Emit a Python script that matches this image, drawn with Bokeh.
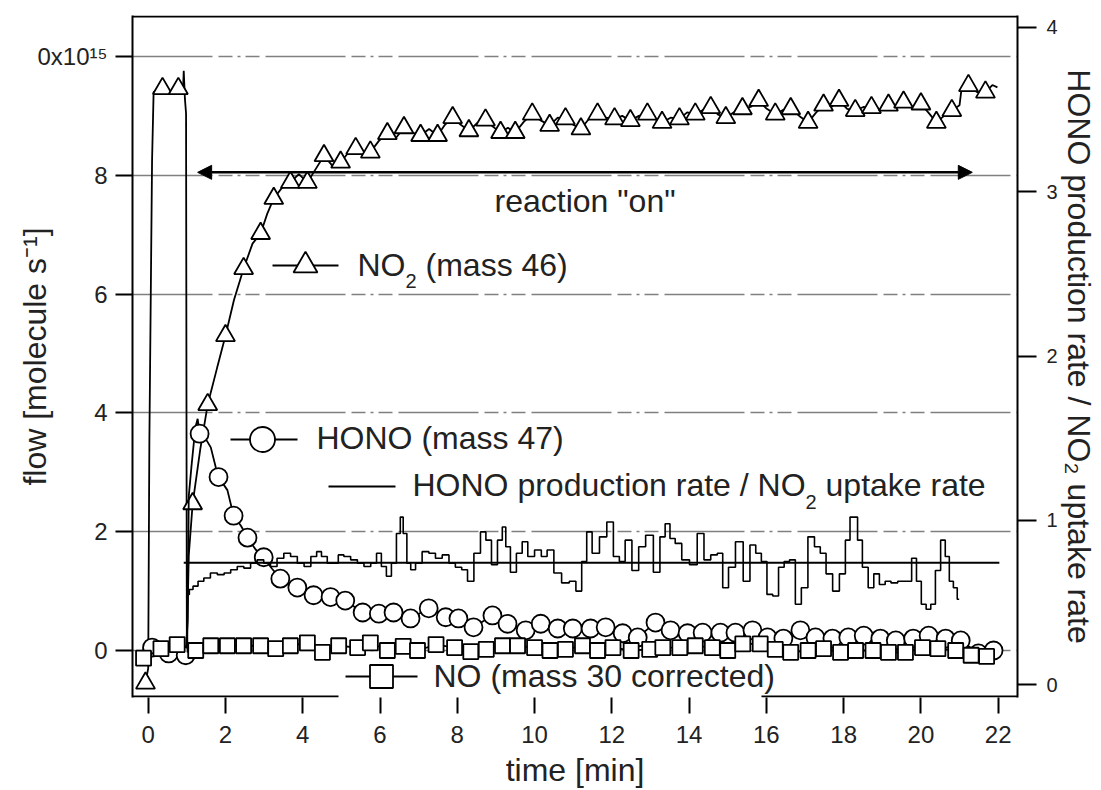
import math
from bokeh.plotting import figure
from bokeh.models import Range1d, LinearAxis, FixedTicker, Label, Arrow, NormalHead
from bokeh.embed import file_html
from bokeh.resources import INLINE

# ---------------- data ----------------
# NO2 (mass 46), flow / 1e15 molecule s-1 ; mark = 1 where a triangle is drawn
no2_t = [-0.07, 0.00, 0.03, 0.10, 0.14, 0.37, 0.58, 0.78, 0.90, 0.92, 0.95, 0.98, 1.00, 1.05,
         1.15, 1.35, 1.54, 1.78, 2.00, 2.22, 2.47, 2.70, 2.91, 3.08, 3.25, 3.45, 3.68, 3.90,
         4.12, 4.33, 4.55, 4.78, 4.98, 5.18, 5.37, 5.56, 5.75, 5.97, 6.19, 6.40, 6.62, 6.84,
         7.05, 7.27, 7.49, 7.68, 7.88, 8.09, 8.30, 8.52, 8.73, 8.92, 9.12, 9.31, 9.50, 9.72,
         9.94, 10.17, 10.39, 10.60, 10.80, 11.00, 11.20, 11.42, 11.63, 11.85, 12.07, 12.27,
         12.48, 12.70, 12.92, 13.11, 13.30, 13.52, 13.75, 13.95, 14.16, 14.36, 14.56, 14.75,
         14.95, 15.16, 15.38, 15.59, 15.80, 16.01, 16.23, 16.43, 16.63, 16.85, 17.08, 17.28,
         17.48, 17.68, 17.88, 18.09, 18.30, 18.51, 18.72, 18.94, 19.16, 19.35, 19.55, 19.78,
         20.00, 20.20, 20.40, 20.60, 20.80, 21.00, 21.05, 21.23, 21.45, 21.67, 21.85, 21.98]
no2_v = [-0.55, -0.30, 3.50, 8.25, 9.40, 9.46, 9.38, 9.46, 9.42, 9.76, 9.29, 9.04, 0.05, 1.60,
         2.47, 3.40, 4.14, 4.75, 5.30, 5.90, 6.43, 6.85, 7.02, 7.35, 7.61, 7.78, 7.88, 8.02,
         7.88, 8.10, 8.33, 8.15, 8.22, 8.38, 8.45, 8.33, 8.39, 8.58, 8.70, 8.62, 8.80, 8.72,
         8.67, 8.78, 8.67, 8.85, 8.97, 8.85, 8.75, 8.88, 8.93, 8.82, 8.72, 8.80, 8.72, 8.90,
         9.03, 8.92, 8.84, 8.97, 8.95, 8.85, 8.78, 8.96, 9.03, 8.97, 8.95, 9.00,
         8.92, 9.00, 9.03, 8.95, 8.89, 8.97, 8.95, 9.06, 9.03, 9.10, 9.14, 9.02,
         8.97, 9.06, 9.12, 9.15, 9.26, 9.12, 9.03, 9.10, 9.12, 9.00, 8.89, 9.05,
         9.18, 9.15, 9.26, 9.12, 9.09, 9.15, 9.14, 9.10, 9.18, 9.15, 9.23, 9.15,
         9.20, 9.05, 8.89, 9.00, 9.09, 9.18, 9.45, 9.51, 9.40, 9.40, 9.52, 9.48]
no2_mark = [1, 0, 0, 0, 0, 1, 0, 1, 0, 0, 0, 0, 0, 0,
            1, 0, 1, 0, 1, 0, 1, 0, 1, 0, 1, 0, 1, 0,
            1, 0, 1, 0, 1, 0, 1, 0, 1, 0, 1, 0, 1, 0,
            1, 0, 1, 0, 1, 0, 1, 0, 1, 0, 1, 0, 1, 0,
            1, 0, 1, 0, 1, 0, 1, 0, 1, 0, 1, 0,
            1, 0, 1, 0, 1, 0, 1, 0, 1, 0, 1, 0,
            1, 0, 1, 0, 1, 0, 1, 0, 1, 0, 1, 0,
            1, 0, 1, 0, 1, 0, 1, 0, 1, 0, 1, 0,
            1, 0, 1, 0, 1, 0, 0, 1, 0, 1, 0, 0]

# HONO (mass 47); mark = 1 where a circle is drawn
hono_t = [-0.15, 0.10, 0.32, 0.53, 0.75, 0.97, 1.02, 1.05, 1.12, 1.22, 1.28, 1.33, 1.50, 1.62,
          1.75, 1.82, 2.05, 2.21, 2.40, 2.57, 2.78, 2.99, 3.20, 3.42, 3.86, 4.28, 4.72, 5.10,
          5.55, 5.97, 6.35, 6.79, 7.26, 7.70, 8.03, 8.42, 8.91, 9.30, 9.77, 10.16, 10.60,
          10.99, 11.45, 11.84, 12.28, 12.67, 13.13, 13.52, 13.96, 14.35, 14.81, 15.20, 15.64,
          16.03, 16.44, 16.88, 17.27, 17.71, 18.12, 18.52, 18.95, 19.35, 19.80, 20.20, 20.64,
          21.03, 21.49, 21.88, 22.00]
hono_v = [0.02, 0.05, 0.00, -0.05, -0.02, -0.08, 0.50, 2.60, 3.10, 3.75, 3.90, 3.65, 3.55, 3.42,
          3.08, 2.92, 2.70, 2.27, 2.10, 1.90, 1.70, 1.57, 1.38, 1.21, 1.06, 0.93, 0.90, 0.84,
          0.64, 0.62, 0.64, 0.54, 0.71, 0.56, 0.54, 0.39, 0.59, 0.45, 0.34, 0.45, 0.37,
          0.37, 0.37, 0.39, 0.29, 0.22, 0.47, 0.34, 0.29, 0.30, 0.30, 0.30, 0.34,
          0.22, 0.20, 0.34, 0.22, 0.20, 0.22, 0.25, 0.20, 0.17, 0.20, 0.25, 0.20,
          0.17, -0.05, 0.00, -0.10]
hono_mark = [0, 1, 0, 1, 0, 1, 0, 0, 0, 0, 0, 1, 0, 0,
             0, 1, 0, 1, 0, 1, 0, 1, 0, 1, 1, 1, 1, 1,
             1, 1, 1, 1, 1, 1, 1, 1, 1, 1, 1, 1, 1,
             1, 1, 1, 1, 1, 1, 1, 1, 1, 1, 1, 1,
             1, 1, 1, 1, 1, 1, 1, 1, 1, 1, 1, 1,
             1, 1, 1, 0]

# NO (mass 30 corrected)
no_t = [-0.12, 0.33, 0.75, 1.23, 1.62, 2.05, 2.47, 2.91, 3.30, 3.68, 4.12, 4.51, 4.93, 5.42,
        5.75, 6.19, 6.60, 6.97, 7.45, 7.93, 8.35, 8.75, 9.17, 9.56, 10.00, 10.40, 10.80,
        11.24, 11.63, 12.03, 12.50, 12.98, 13.32, 13.76, 14.16, 14.60, 15.00, 15.39, 15.84,
        16.23, 16.63, 17.08, 17.48, 17.92, 18.31, 18.76, 19.16, 19.60, 20.04, 20.44, 20.90,
        21.30, 21.70]
no_v = [-0.13, 0.03, 0.10, 0.00, 0.08, 0.08, 0.08, 0.08, 0.03, 0.08, 0.13, -0.03, 0.08, 0.05,
        0.13, 0.00, 0.07, 0.00, 0.10, 0.05, -0.02, 0.02, 0.08, 0.08, 0.05, 0.00, 0.02,
        0.08, 0.00, 0.05, 0.00, 0.02, 0.05, 0.05, 0.08, 0.05, 0.00, 0.11, 0.11,
        0.02, -0.03, 0.00, 0.03, -0.03, 0.00, 0.00, -0.03, -0.03, 0.05, 0.03, 0.00,
        -0.08, -0.10]

# HONO production rate / NO2 uptake rate (right axis)
ratio_t = [1.00, 1.03, 1.10, 1.22, 1.36, 1.52, 1.70, 1.88, 2.05, 2.22, 2.39, 2.56, 2.74, 2.90,
           3.08, 3.25, 3.42, 3.60, 3.77, 3.95, 4.12, 4.30, 4.42, 4.55, 4.72, 4.86, 4.98, 5.15,
           5.33, 5.50, 5.67, 5.85, 5.97, 6.10, 6.23, 6.36, 6.49, 6.56, 6.64, 6.75, 6.84, 7.00,
           7.18, 7.35, 7.52, 7.70, 7.87, 8.03, 8.20, 8.33, 8.53, 8.67, 8.81, 8.96, 9.12, 9.21,
           9.30, 9.45, 9.61, 9.75, 9.90, 10.10, 10.25, 10.40, 10.60, 10.80, 11.00, 11.14, 11.30,
           11.40, 11.58, 11.78, 11.96, 12.12, 12.27, 12.42, 12.62, 12.77, 12.98, 13.17, 13.32,
           13.44, 13.57, 13.71, 13.91, 14.11, 14.31, 14.46, 14.66, 14.80, 14.94, 15.10, 15.30,
           15.50, 15.65, 15.80, 15.94, 16.09, 16.24, 16.39, 16.53, 16.67, 16.83, 16.98, 17.17,
           17.32, 17.47, 17.62, 17.81, 17.97, 18.12, 18.21, 18.31, 18.41, 18.56, 18.71, 18.85,
           19.00, 19.15, 19.30, 19.50, 19.70, 19.82, 19.95, 20.07, 20.20, 20.31, 20.44, 20.58,
           20.68, 20.79, 20.89, 20.99]
ratio_v = [0.20, 0.55, 0.58, 0.60, 0.63, 0.65, 0.68, 0.67, 0.68, 0.70, 0.72, 0.71, 0.74, 0.76,
           0.74, 0.72, 0.77, 0.80, 0.78, 0.74, 0.72, 0.78, 0.81, 0.78, 0.74, 0.74, 0.79, 0.78,
           0.76, 0.74, 0.72, 0.74, 0.80, 0.72, 0.66, 0.74, 0.92, 1.02, 0.92, 0.74, 0.70, 0.74,
           0.81, 0.80, 0.77, 0.79, 0.74, 0.715, 0.70, 0.63, 0.80, 0.93, 0.88, 0.73, 0.88, 0.96,
           0.84, 0.685, 0.80, 0.87, 0.78, 0.82, 0.78, 0.82, 0.68, 0.62, 0.63, 0.57, 0.75,
           0.93, 0.80, 0.90, 0.99, 0.78, 0.75, 0.88, 0.695, 0.84, 0.91, 0.685, 0.90,
           0.98, 0.89, 0.86, 0.76, 0.73, 0.92, 0.76, 0.79, 0.80, 0.59, 0.715, 0.87,
           0.63, 0.85, 0.80, 0.75, 0.55, 0.54, 0.715, 0.75, 0.76, 0.49, 0.59, 0.90,
           0.84, 0.80, 0.675, 0.57, 0.675, 0.88, 1.02, 1.02, 0.88, 0.715, 0.59, 0.675,
           0.61, 0.63, 0.62, 0.63, 0.63, 0.77, 0.63, 0.49, 0.46, 0.49, 0.695, 0.88,
           0.78, 0.63, 0.59, 0.52]
ratio_mean = 0.742
ratio_mean_t = [0.92, 22.03]

reaction_on_t = [1.28, 21.33]      # span of the "reaction on" arrow, minutes
reaction_arrow_flow = 8.05

x_ticks = [0, 2, 4, 6, 8, 10, 12, 14, 16, 18, 20, 22]
flow_ticks = [0, 2, 4, 6, 8, 10]
ratio_ticks = [0, 1, 2, 3, 4]
flow_top_label = "0x10\u00b9\u2075"

txt_no2 = ["NO", "2", "(mass 46)"]
txt_hono = "HONO (mass 47)"
txt_ratio = ["HONO production rate / NO", "2", "uptake rate"]
txt_no = "NO (mass 30 corrected)"
txt_reaction = 'reaction "on"'
txt_xlabel = "time [min]"
txt_ylabel = "flow [molecule s\u207b\u00b9]"
txt_y2label = "HONO production rate / NO\u2082 uptake rate"

# ---------------- layout helpers (page pixels -> data units) ----------------
FONT = "Liberation Sans"
TXT = "#222222"
X0, XS = 147.7, 38.636     # page x of t=0, px per minute
Y0, YS = 650.0, 59.4       # page y of flow 0, px per unit
R0, RS = 684.3, 164.4      # page y of ratio 0, px per unit
FL, FR, FT, FB = 132, 1017, 15, 697   # frame edges on the page
W, H = 1101, 790


def X(px):
    return (px - X0) / XS


def Y(py):
    return (Y0 - py) / YS


AW = {' ': 278, '"': 355, '(': 333, ')': 333, '-': 333, '/': 278, '[': 278, ']': 278,
      'H': 722, 'N': 722, 'O': 778, 'a': 556, 'c': 500, 'd': 556, 'e': 556, 'f': 278,
      'i': 222, 'k': 500, 'l': 222, 'm': 833, 'n': 556, 'o': 556, 'p': 556, 'r': 333,
      's': 500, 't': 278, 'u': 556, 'w': 722, 'x': 500}


def tw(s, size):
    return sum(AW.get(c, 556) for c in s) * size / 1000.0


p = figure(frame_width=FR - FL, frame_height=FB - FT,
           min_border_left=FL, min_border_right=W - FR,
           min_border_top=FT, min_border_bottom=H - FB,
           x_range=Range1d(X(FL), X(FR)), y_range=Range1d(Y(FB), Y(FT)),
           output_backend="svg", toolbar_location=None,
           background_fill_color="white", border_fill_color="white")
p.extra_y_ranges = {"ratio": Range1d((R0 - FB) / RS, (R0 - FT) / RS)}
p.outline_line_color = None

p.xgrid.visible = False
p.ygrid.ticker = FixedTicker(ticks=flow_ticks)
p.ygrid.grid_line_color = "#808080"
p.ygrid.grid_line_width = 1.5
p.ygrid.grid_line_dash = "80 6 14 5 3 5 14 6"


def style_axis(ax, ticks, size, out, standoff, label, lstandoff):
    ax.ticker = FixedTicker(ticks=ticks)
    ax.major_tick_out = out
    ax.major_tick_in = 0
    ax.minor_tick_line_color = None
    ax.major_tick_line_width = 2
    ax.major_tick_line_color = "black"
    ax.axis_line_width = 2
    ax.axis_line_color = "black"
    ax.major_label_text_font = FONT
    ax.major_label_text_font_size = f"{size}px"
    ax.major_label_text_color = TXT
    ax.major_label_standoff = standoff
    ax.axis_label = label
    ax.axis_label_text_font = FONT
    ax.axis_label_text_font_size = "32px"
    ax.axis_label_text_font_style = "normal"
    ax.axis_label_text_color = TXT
    ax.axis_label_standoff = lstandoff


style_axis(p.xaxis[0], x_ticks, 24, 16, 12, txt_xlabel, 6)
p.xaxis[0].axis_line_color = None          # drawn below, with the legend gap
style_axis(p.yaxis[0], flow_ticks, 24, 17, 8, txt_ylabel, -18)
p.yaxis[0].major_label_overrides = {10: flow_top_label}

rax = LinearAxis(y_range_name="ratio")
style_axis(rax, ratio_ticks, 20, 19, 10, txt_y2label, 0)
p.add_layout(rax, "right")

# frame top and bottom edges (bottom one interrupted by the NO legend box)
p.line([X(FL), X(FR)], [Y(FT + 1), Y(FT + 1)], line_color="black", line_width=2)
p.line([X(FL), X(338)], [Y(FB - 1), Y(FB - 1)], line_color="black", line_width=2)
p.line([X(761), X(FR)], [Y(FB - 1), Y(FB - 1)], line_color="black", line_width=2)

# ---------------- data glyphs ----------------
LW = 1.8
p.line(no2_t, no2_v, line_color="black", line_width=LW)
p.scatter([t for t, m in zip(no2_t, no2_mark) if m], [v for v, m in zip(no2_v, no2_mark) if m],
          marker="triangle", size=19, fill_color="white", line_color="black", line_width=LW)

p.line(hono_t, hono_v, line_color="black", line_width=LW)
p.scatter([t for t, m in zip(hono_t, hono_mark) if m], [v for v, m in zip(hono_v, hono_mark) if m],
          marker="circle", size=18, fill_color="white", line_color="black", line_width=LW)

p.line(no_t, no_v, line_color="black", line_width=LW)
p.scatter(no_t, no_v, marker="square", size=15, fill_color="white", line_color="black", line_width=LW)

p.step(ratio_t, ratio_v, mode="center", line_color="black", line_width=1.6, y_range_name="ratio")
p.line(ratio_mean_t, [ratio_mean, ratio_mean], line_color="black", line_width=2, y_range_name="ratio")

p.add_layout(Arrow(start=NormalHead(size=14, fill_color="black", line_color="black"),
                   end=NormalHead(size=14, fill_color="black", line_color="black"),
                   x_start=reaction_on_t[0], y_start=reaction_arrow_flow,
                   x_end=reaction_on_t[1], y_end=reaction_arrow_flow,
                   line_width=2.5, line_color="black"))


def lab(x, y, text, size, **kw):
    p.add_layout(Label(x=x, y=y, text=text, text_font=FONT, text_font_size=f"{size}px",
                       text_color=TXT, text_baseline="middle", **kw))


def key(x0, x1, xc, yc, marker, msize):
    p.line([X(x0), X(x1)], [Y(yc), Y(yc)], line_color="black", line_width=LW)
    if marker:
        p.scatter([X(xc)], [Y(yc)], marker=marker, size=msize, fill_color="white",
                  line_color="black", line_width=LW)


FS = 32
SP = tw(" ", FS)
key(272, 338, 305, 265, "triangle", 24)
x = 357
lab(X(x), Y(264.5), txt_no2[0], FS)
x += tw(txt_no2[0], FS)
lab(X(x), Y(280), txt_no2[1], 20)
x += tw(txt_no2[1], 20) + SP
lab(X(x), Y(264.5), txt_no2[2], FS)

key(230, 297, 262, 439, "circle", 25)
lab(X(316), Y(437.5), txt_hono, FS)

key(328, 395, 0, 486, None, 0)
x = 412
lab(X(x), Y(484.5), txt_ratio[0], FS)
x += tw(txt_ratio[0], FS)
lab(X(x), Y(501), txt_ratio[1], 20)
x += tw(txt_ratio[1], 20) + SP
lab(X(x), Y(484.5), txt_ratio[2], FS)

key(345, 417, 381, 676, "square", 23)
lab(X(433), Y(675.5), txt_no, FS)

lab(X(494), Y(200.5), txt_reaction, FS)

open("out.html", "w").write(file_html(p, INLINE))
